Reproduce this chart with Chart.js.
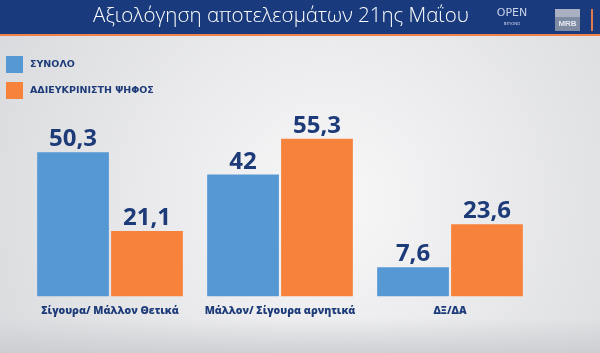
<!DOCTYPE html>
<html>
<head>
<meta charset="utf-8">
<script src="https://cdn.jsdelivr.net/npm/chart.js@4"></script>
<style>
  html, body { margin: 0; padding: 0; background: #e6e7e9; }
  #wrap { position: relative; width: 600px; height: 353px; }
</style>
</head>
<body>
<div id="wrap"><canvas id="resultsChart" width="600" height="353"></canvas></div>
<script>
// ---- data ----
const titleText = "Αξιολόγηση αποτελεσμάτων 21ης Μαΐου";
const categories = ["Σίγουρα/ Μάλλον Θετικά", "Μάλλον/ Σίγουρα αρνητικά", "ΔΞ/ΔΑ"];
const seriesNames = ["ΣΥΝΟΛΟ", "ΑΔΙΕΥΚΡΙΝΙΣΤΗ ΨΗΦΟΣ"];
const totalValues = [50.3, 42, 7.6];
const undecidedValues = [21.1, 55.3, 23.6];

const navy = "#1d3b78";
const blue = "#5698d3";
const orange = "#f6823c";

// background + header band
const backdrop = {
  id: "backdrop",
  beforeDraw(chart) {
    const c = chart.ctx;
    const w = chart.width, h = chart.height;
    c.save();
    let g = c.createRadialGradient(330, 200, 20, 330, 200, 380);
    g.addColorStop(0, "#f6f6f7");
    g.addColorStop(1, "#d9dadd");
    c.fillStyle = g;
    c.fillRect(0, 0, w, h);
    // darker floor band
    g = c.createLinearGradient(0, 318, 0, h);
    g.addColorStop(0, "rgba(200,202,206,0)");
    g.addColorStop(1, "rgba(200,202,206,0.8)");
    c.fillStyle = g;
    c.fillRect(0, 318, w, h - 318);
    // header
    c.fillStyle = "#193a7c";
    c.fillRect(0, 0, w, 34);
    c.fillStyle = "#f0834a";
    c.fillRect(0, 34, w, 2);
    c.fillStyle = "#ffffff";
    c.font = "300 20.5px 'Open Sans'";
    c.textAlign = "center";
    c.textBaseline = "middle";
    c.fillText(titleText, 281, 16);
    // logos
    c.font = "11px 'DejaVu Sans'";
    c.fillStyle = "#c9d3ea";
    c.fillText("OPEN", 512, 13);
    c.font = "4px 'DejaVu Sans'";
    c.fillText("BEYOND", 512, 24);
    c.fillStyle = "#7f8aa3";
    c.fillRect(555, 9, 25, 22);
    c.fillStyle = "#a8b0c2";
    c.fillRect(555, 9, 25, 8);
    c.fillStyle = "#e4e8f0";
    c.font = "bold 8px 'Liberation Sans'";
    c.fillText("MRB", 567.5, 24);
    c.fillStyle = "#e0784a";
    c.fillRect(591, 9, 2, 22);
    c.restore();
  }
};

// legend squares on the left
const sideLegend = {
  id: "sideLegend",
  afterDraw(chart) {
    const c = chart.ctx;
    c.save();
    chart.data.datasets.forEach((ds, i) => {
      const y = 56 + i * 26;
      c.fillStyle = ds.backgroundColor;
      c.fillRect(6, y, 17, 17);
      c.fillStyle = navy;
      c.font = "bold 9.5px 'DejaVu Sans'";
      c.textAlign = "left";
      c.textBaseline = "middle";
      c.fillText(ds.label, 30, y + 9);
    });
    c.restore();
  }
};

// value labels above bars
const valueLabels = {
  id: "valueLabels",
  afterDatasetsDraw(chart) {
    const c = chart.ctx;
    c.save();
    c.fillStyle = navy;
    c.font = "bold 24px 'Open Sans'";
    c.textAlign = "center";
    c.textBaseline = "alphabetic";
    chart.data.datasets.forEach((ds, i) => {
      chart.getDatasetMeta(i).data.forEach((bar, j) => {
        const txt = String(ds.data[j]).replace(".", ",");
        c.fillText(txt, bar.x, bar.y - 6);
      });
    });
    c.restore();
  }
};

const ctx = document.querySelector("#resultsChart").getContext("2d");
const chart = new Chart(ctx, {
  type: "bar",
  data: {
    labels: categories,
    datasets: [
      { label: seriesNames[0], data: totalValues, backgroundColor: blue, base: -3.2 },
      { label: seriesNames[1], data: undecidedValues, backgroundColor: orange, base: -3.2 }
    ]
  },
  options: {
    responsive: false,
    animation: false,
    events: [],
    categoryPercentage: 0.87,
    barPercentage: 0.97,
    layout: { padding: { left: 25, right: 65, top: 126, bottom: 36 } },
    plugins: { legend: { display: false }, tooltip: { enabled: false } },
    scales: {
      x: {
        grid: { display: false },
        border: { display: false },
        ticks: { color: navy, font: { family: "Open Sans", weight: "800", size: 10.5 }, padding: 0 }
      },
      y: { display: false, min: -3.2, max: 60 }
    }
  },
  plugins: [backdrop, sideLegend, valueLabels]
});
</script>
</body>
</html>
